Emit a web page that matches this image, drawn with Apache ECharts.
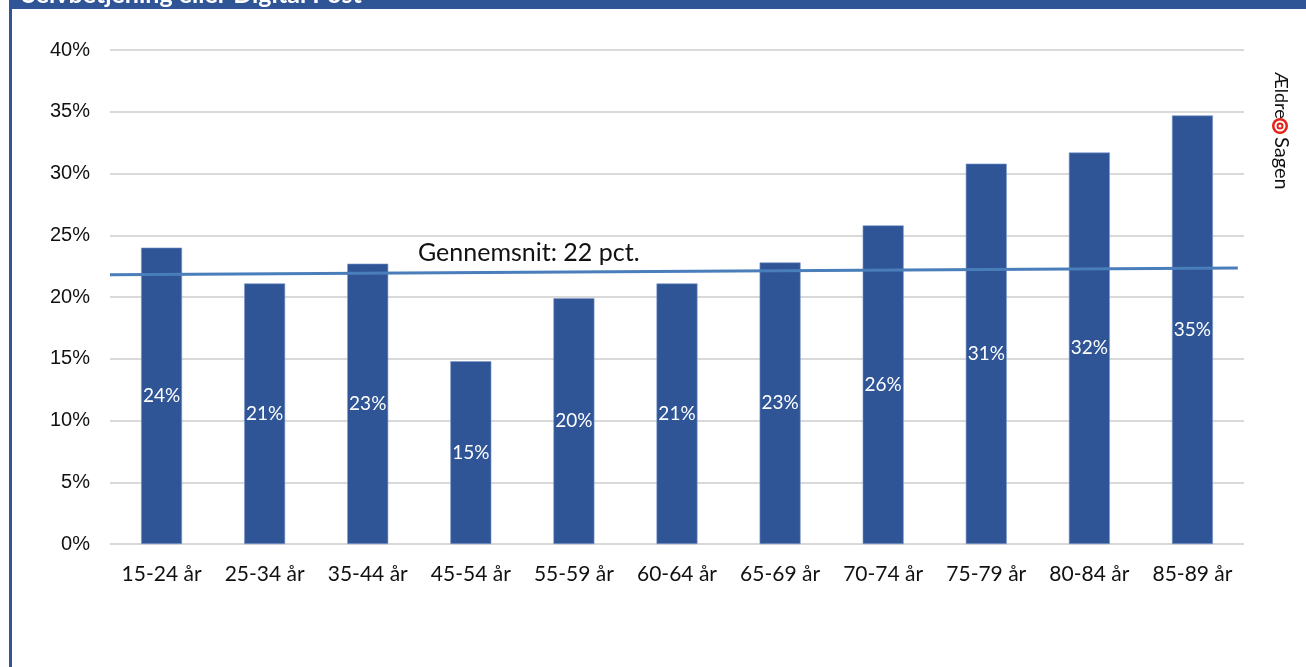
<!--
    Selvbetjening eller Digital Post - andel fordelt på alder
-->
<meta charset="UTF-8">
<script src="https://cdn.jsdelivr.net/npm/echarts@6/dist/echarts.min.js"></script>

<style>
    html, body { margin: 0; padding: 0; background: #fff; }
</style>

<div id="digitalpost" style="width:1306px;height:667px;"></div>

<script>
    /*data*/
    var categories = ['15-24 år', '25-34 år', '35-44 år', '45-54 år', '55-59 år', '60-64 år',
        '65-69 år', '70-74 år', '75-79 år', '80-84 år', '85-89 år'];
    var shares = [24.0, 21.1, 22.7, 14.8, 19.9, 21.1, 22.8, 25.8, 30.8, 31.7, 34.7];
    var shareLabels = ['24%', '21%', '23%', '15%', '20%', '21%', '23%', '26%', '31%', '32%', '35%'];
    // gennemsnitslinje: [position på kategoriaksen, procent]
    var averageLine = [[0, 21.8], [10.94, 22.35]];
    var averageText = 'Gennemsnit: 22 pct.';

    var chart = function () {
        var digitalpostChart = echarts.init(document.getElementById('digitalpost'));
        var option = {
            backgroundColor: '#ffffff',
            animation: false,
            grid: {
                left: 110,
                right: 62,
                top: 50,
                bottom: 123
            },
            xAxis: [{
                type: 'category',
                data: categories,
                axisLine: {show: false},
                axisTick: {show: false},
                axisLabel: {
                    interval: 0,
                    margin: 20,
                    fontSize: 21,
                    fontFamily: 'Lato',
                    color: '#111'
                }
            }, {
                type: 'value',
                min: 0,
                max: 11,
                show: false
            }],
            yAxis: {
                type: 'value',
                min: 0,
                max: 40,
                interval: 5,
                axisLine: {show: false},
                axisTick: {show: false},
                axisLabel: {
                    margin: 20,
                    fontSize: 20,
                    fontFamily: 'Liberation Sans',
                    color: '#111',
                    formatter: '{value}%'
                },
                splitLine: {
                    lineStyle: {color: '#d9d9d9', width: 2}
                }
            },
            series: [{
                type: 'bar',
                data: shares,
                barWidth: 41,
                itemStyle: {
                    color: '#2f5597',
                    borderColor: '#7f9acb',
                    borderWidth: 0.6
                },
                label: {
                    show: true,
                    position: 'inside',
                    fontSize: 19,
                    fontFamily: 'Lato',
                    color: '#ffffff',
                    formatter: function (p) {
                        return shareLabels[p.dataIndex];
                    }
                }
            }, {
                type: 'line',
                xAxisIndex: 1,
                data: averageLine,
                symbol: 'none',
                lineStyle: {color: '#4a7ebb', width: 3}
            }],
            graphic: [
                /*titellinje (afskåret)*/
                {type: 'rect', left: 9, top: 0, shape: {width: 1297, height: 9}, style: {fill: '#2f5597'}},
                {
                    type: 'text', left: 22, top: -18,
                    style: {text: 'Selvbetjening eller Digital Post', fill: '#ffffff', font: 'bold 25px Lato'}
                },
                /*venstre kant*/
                {type: 'rect', left: 9, top: 9, shape: {width: 3, height: 658}, style: {fill: '#2f5597'}},
                /*gennemsnit tekst*/
                {
                    type: 'text', left: 418, top: 240,
                    style: {text: averageText, fill: '#111', font: '25px Lato'}
                },
                /*logo*/
                {
                    type: 'text', x: 1281, y: 72, rotation: -Math.PI / 2,
                    style: {text: 'Ældre', fill: '#111', font: '18px Lato', align: 'left', verticalAlign: 'middle'}
                },
                {
                    type: 'circle', shape: {cx: 1280, cy: 126, r: 8},
                    style: {fill: '#e2231a'}
                },
                {
                    type: 'circle', shape: {cx: 1280, cy: 126, r: 4.5},
                    style: {fill: 'none', stroke: '#ffffff', lineWidth: 2}
                },
                {
                    type: 'circle', shape: {cx: 1280, cy: 126, r: 1.5},
                    style: {fill: '#ffffff'}
                },
                {
                    type: 'text', x: 1281, y: 137, rotation: -Math.PI / 2,
                    style: {text: 'Sagen', fill: '#111', font: '20px Lato', align: 'left', verticalAlign: 'middle'}
                }
            ]
        };
        digitalpostChart.setOption(option);
    };

    chart();
</script>
